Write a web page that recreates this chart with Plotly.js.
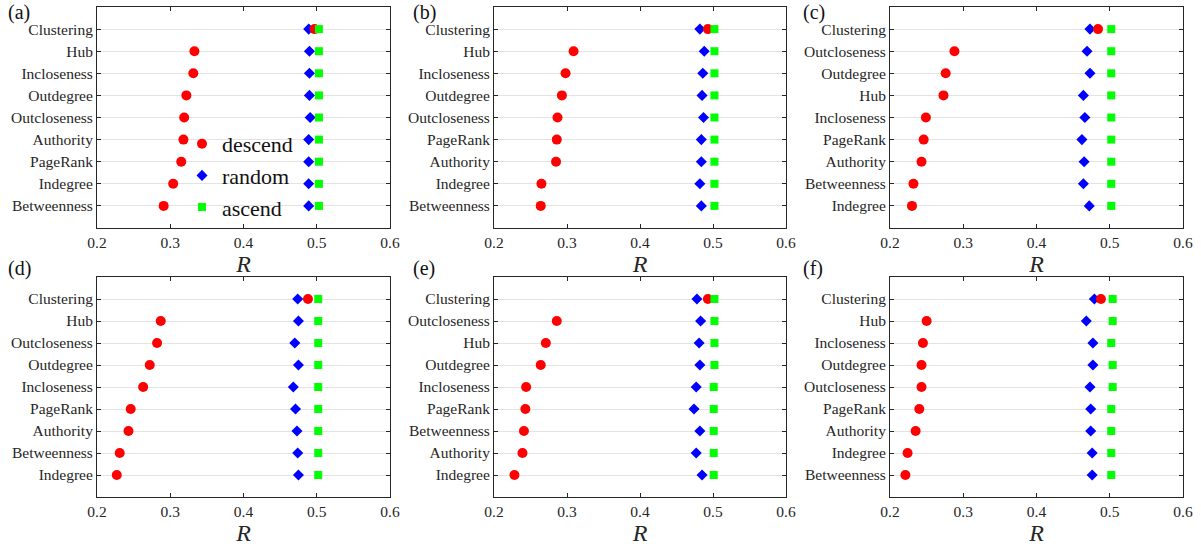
<!DOCTYPE html>
<html>
<head>
<meta charset="utf-8">
<script src="https://cdn.plot.ly/plotly-3.0.1.min.js"></script>
<style>html,body{margin:0;padding:0;background:#fff;}#chart{width:1201px;height:546px;}</style>
</head>
<body>
<div id="chart"></div>
<script>
// ---- data (categories listed top to bottom) ----
const catsA = ['Clustering','Hub','Incloseness','Outdegree','Outcloseness','Authority','PageRank','Indegree','Betweenness'];
const descA = [0.497,0.333,0.3315,0.322,0.319,0.318,0.315,0.304,0.291];
const randA = [0.489,0.490,0.490,0.490,0.491,0.489,0.489,0.489,0.489];
const ascA  = [0.503,0.503,0.503,0.503,0.503,0.503,0.503,0.503,0.503];

const catsB = ['Clustering','Hub','Incloseness','Outdegree','Outcloseness','PageRank','Authority','Indegree','Betweenness'];
const descB = [0.493,0.309,0.298,0.293,0.287,0.286,0.285,0.265,0.264];
const randB = [0.482,0.488,0.486,0.485,0.487,0.484,0.484,0.482,0.484];
const ascB  = [0.502,0.502,0.502,0.502,0.502,0.502,0.502,0.502,0.502];

const catsC = ['Clustering','Outcloseness','Outdegree','Hub','Incloseness','PageRank','Authority','Betweenness','Indegree'];
const descC = [0.484,0.288,0.276,0.273,0.249,0.246,0.243,0.232,0.230];
const randC = [0.473,0.469,0.473,0.464,0.466,0.462,0.465,0.464,0.472];
const ascC  = [0.502,0.502,0.502,0.502,0.502,0.502,0.502,0.502,0.502];

const catsD = ['Clustering','Hub','Outcloseness','Outdegree','Incloseness','PageRank','Authority','Betweenness','Indegree'];
const descD = [0.488,0.287,0.282,0.272,0.263,0.246,0.243,0.231,0.227];
const randD = [0.474,0.475,0.470,0.475,0.468,0.471,0.473,0.474,0.475];
const ascD  = [0.502,0.502,0.502,0.502,0.502,0.502,0.502,0.502,0.502];

const catsE = ['Clustering','Outcloseness','Hub','Outdegree','Incloseness','PageRank','Betweenness','Authority','Indegree'];
const descE = [0.493,0.286,0.271,0.264,0.244,0.243,0.241,0.239,0.228];
const randE = [0.478,0.483,0.481,0.482,0.477,0.474,0.482,0.477,0.485];
const ascE  = [0.502,0.502,0.502,0.502,0.501,0.501,0.501,0.501,0.501];

const catsF = ['Clustering','Hub','Incloseness','Outdegree','Outcloseness','PageRank','Authority','Indegree','Betweenness'];
const descF = [0.488,0.250,0.245,0.243,0.243,0.240,0.235,0.224,0.221];
const randF = [0.479,0.468,0.477,0.477,0.473,0.474,0.474,0.476,0.476];
const ascF  = [0.504,0.504,0.502,0.504,0.504,0.502,0.502,0.502,0.502];

const panelLabels = ['(a)','(b)','(c)','(d)','(e)','(f)'];
const xTicks = [0.2,0.3,0.4,0.5,0.6];
const seriesNames = ['descend','random','ascend'];

// ---- build ----
const panels = [
  {cats:catsA, d:descA, r:randA, a:ascA},
  {cats:catsB, d:descB, r:randB, a:ascB},
  {cats:catsC, d:descC, r:randC, a:ascC},
  {cats:catsD, d:descD, r:randD, a:ascD},
  {cats:catsE, d:descE, r:randE, a:ascE},
  {cats:catsF, d:descF, r:randF, a:ascF}
];

const W = 1201, H = 546;
const FONT = 'Liberation Serif, serif';
const AX = '#262626';
const xPix = [[97,390],[494,786],[890,1183]];
const yPix = [[7,228],[277,497]];
const labPos = [[6,12],[411,12],[801,12],[6,268],[411,268],[801,268]];

const traces = [];
const layout = {
  width: W, height: H,
  margin: {l:0, r:0, t:0, b:0},
  paper_bgcolor: '#ffffff', plot_bgcolor: '#ffffff',
  font: {family: FONT, size: 15, color: AX},
  showlegend: true,
  legend: {
    x: 182/W, y: 1 - 123/H, xanchor: 'left', yanchor: 'top',
    bgcolor: 'rgba(0,0,0,0)', borderwidth: 0,
    font: {family: FONT, size: 22, color: '#111'},
    tracegroupgap: 0
  },
  annotations: []
};

panels.forEach((p, i) => {
  const n = i + 1;
  const row = Math.floor(i / 3), col = i % 3;
  const xa = 'x' + (n === 1 ? '' : n), ya = 'y' + (n === 1 ? '' : n);
  const xk = 'xaxis' + (n === 1 ? '' : n), yk = 'yaxis' + (n === 1 ? '' : n);
  const common = {xaxis: xa, yaxis: ya, mode: 'markers', type: 'scatter', hoverinfo: 'x+y'};
  traces.push(Object.assign({}, common, {
    x: p.r, y: p.cats, name: seriesNames[1], legendrank: 2, showlegend: i === 0,
    marker: {symbol: 'diamond', size: 8.5, color: '#0000ff'}
  }));
  traces.push(Object.assign({}, common, {
    x: p.d, y: p.cats, name: seriesNames[0], legendrank: 1, showlegend: i === 0,
    marker: {symbol: 'circle', size: 10, color: '#ff0000'}
  }));
  traces.push(Object.assign({}, common, {
    x: p.a, y: p.cats, name: seriesNames[2], legendrank: 3, showlegend: i === 0,
    marker: {symbol: 'square', size: 8, color: '#00ff00'}
  }));
  layout[xk] = {
    domain: [xPix[col][0] / W, xPix[col][1] / W],
    anchor: ya,
    range: [0.2, 0.6],
    tickvals: xTicks,
    ticktext: xTicks.map(v => v.toFixed(1)),
    ticks: 'inside', ticklen: 4, tickcolor: AX, tickwidth: 1,
    showline: true, linecolor: AX, linewidth: 1, mirror: 'ticks',
    showgrid: false, zeroline: false,
    tickfont: {family: FONT, size: 15.5, color: AX},
    title: {text: '<i>R</i>', font: {family: FONT, size: 24, color: AX}, standoff: 2},
    fixedrange: true
  };
  layout[yk] = {
    domain: [1 - yPix[row][1] / H, 1 - yPix[row][0] / H],
    anchor: xa,
    type: 'category',
    categoryorder: 'array',
    categoryarray: p.cats.slice().reverse(),
    range: [-1, 9],
    ticks: 'inside', ticklen: 4, tickcolor: AX, tickwidth: 1,
    showline: true, linecolor: AX, linewidth: 1, mirror: 'ticks',
    showgrid: true, gridcolor: '#e3e3e3', gridwidth: 1,
    zeroline: false,
    tickfont: {family: FONT, size: 15.5, color: AX},
    fixedrange: true
  };
  layout.annotations.push({
    xref: 'paper', yref: 'paper', x: labPos[i][0] / W, y: 1 - labPos[i][1] / H,
    xanchor: 'left', yanchor: 'middle', showarrow: false,
    text: panelLabels[i], font: {family: FONT, size: 20, color: '#111'}
  });
});

Plotly.newPlot('chart', traces, layout, {displayModeBar: false, staticPlot: true});
</script>
</body>
</html>
